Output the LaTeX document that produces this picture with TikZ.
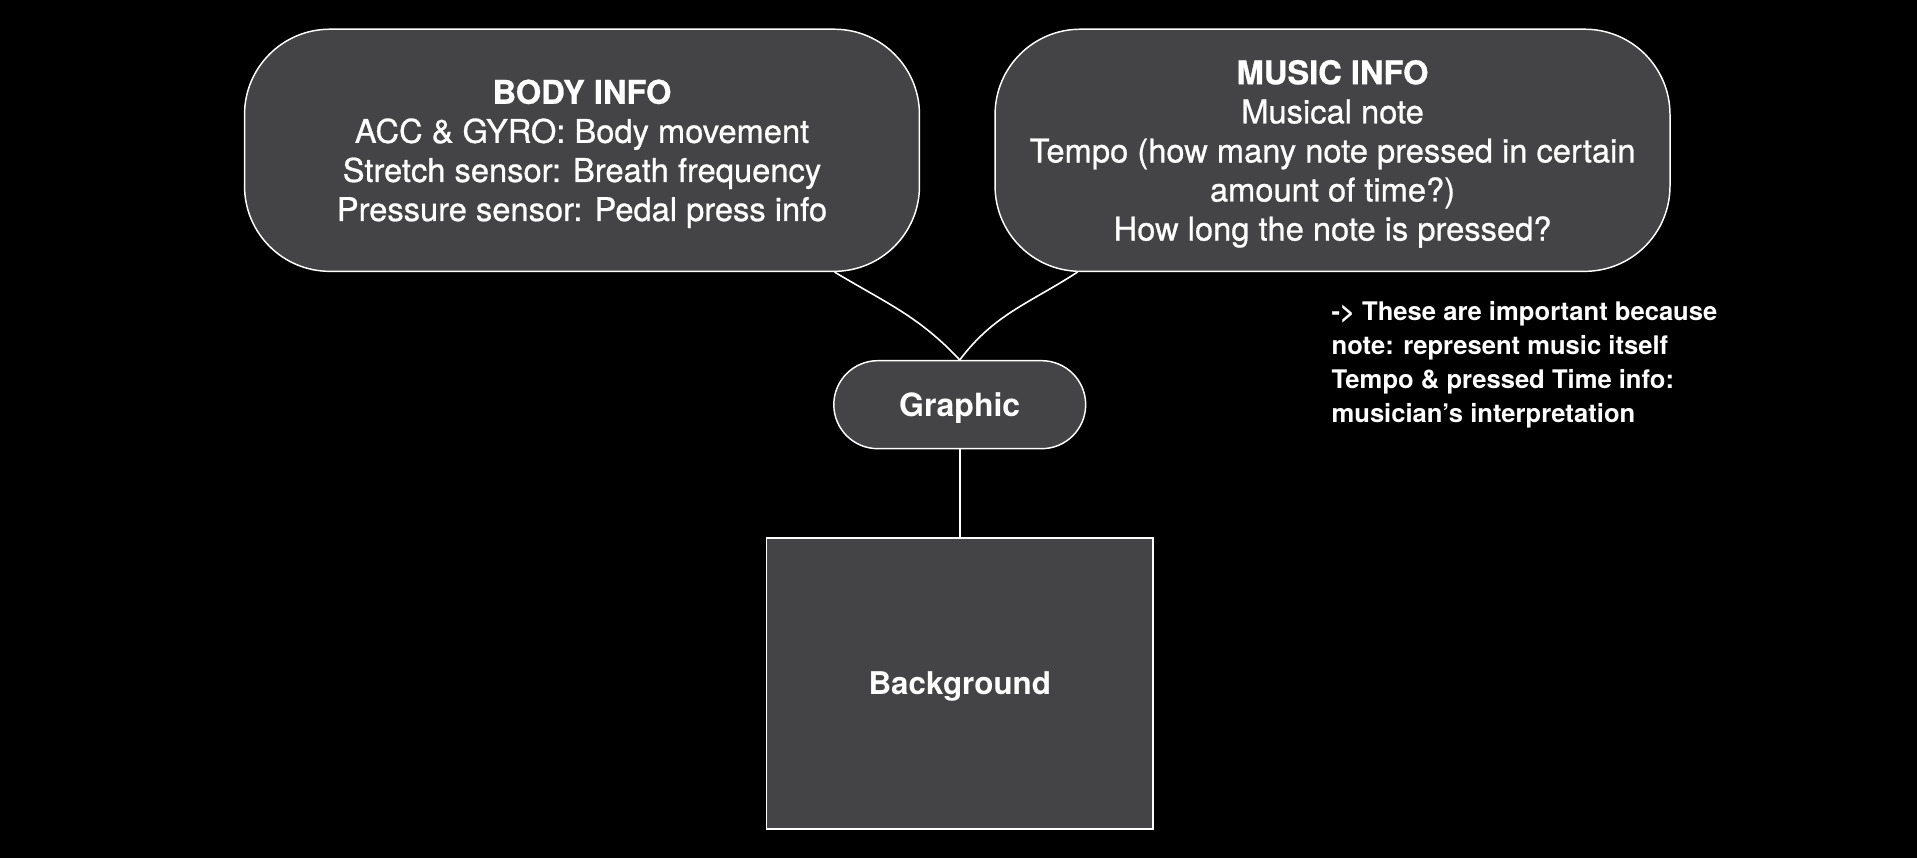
\documentclass[tikz,border=0pt]{standalone}
\usepackage{fontspec}
\setmainfont{TeX Gyre Heros}
\usepackage{tikz}
\definecolor{boxgray}{RGB}{68,68,70}

\begin{document}
\begin{tikzpicture}[
        infobox/.style={draw=white, line width=1.1pt, fill=boxgray, rounded corners=64pt,
            minimum width=506.2pt, minimum height=181.6pt, align=center, text=white,
            text depth=0pt, font=\fontsize{24.5}{29.3}\selectfont\addfontfeature{FakeBold=0.8}},
        pillbox/.style={draw=white, line width=1.1pt, fill=boxgray, rounded corners=33pt,
            minimum width=188.9pt, minimum height=66pt, text=white, text depth=0pt,
            font=\fontsize{24}{28}\selectfont\bfseries},
        bgbox/.style={draw=white, line width=1.1pt, fill=boxgray,
            minimum width=289.7pt, minimum height=218.3pt, text=white, text depth=0pt,
            font=\fontsize{23.5}{28}\selectfont\bfseries},
        link/.style={draw=white, line width=1.2pt}]
        % Arka plan
        \fill[black] (0,0) rectangle (1437.75pt,-643.5pt);

        % Bilgi kutulari
        \node[infobox] (body) at (436.5pt,-112.7pt) {\textbf{BODY INFO}\\ACC \& GYRO: Body movement\\Stretch sensor: Breath frequency\\Pressure sensor: Pedal press info};
        \node[infobox] (music) at (999.4pt,-112.7pt) {\textbf{MUSIC INFO}\\Musical note\\Tempo (how many note pressed in certain\\amount of time?)\\How long the note is pressed?};

        % Graphic ve Background
        \node[pillbox] (graphic) at (719.8pt,-303.5pt) {Graphic};
        \node[bgbox] (bg) at (719.8pt,-512.6pt) {Background};

        % Not
        \node[anchor=west, align=left, text=white, inner sep=0pt,
            font=\fontsize{19.2}{25.5}\selectfont\bfseries] (note) at (998.5pt,-273.7pt)
            {-> These are important because\\note: represent music itself\\Tempo \& pressed Time info:\\musician’s interpretation};

        % Baglantilar
        \draw[link] ([xshift=-64.2pt]body.south east) to[out=-31, in=133] (graphic.north);
        \draw[link] ([xshift=62.4pt]music.south west) to[out=213, in=53] (graphic.north);
        \draw[link] (graphic.south) -- (bg.north);
    \end{tikzpicture}
\end{document}
